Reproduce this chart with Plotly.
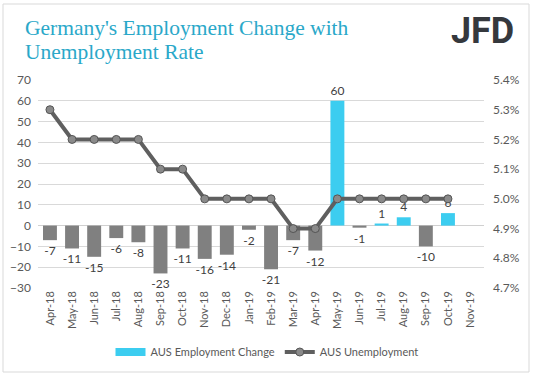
import plotly.graph_objects as go

months = ["Apr-18", "May-18", "Jun-18", "Jul-18", "Aug-18", "Sep-18", "Oct-18", "Nov-18",
          "Dec-18", "Jan-19", "Feb-19", "Mar-19", "Apr-19", "May-19", "Jun-19", "Jul-19",
          "Aug-19", "Sep-19", "Oct-19", "Nov-19"]
employment_change = [-7, -11, -15, -6, -8, -23, -11, -16, -14, -2, -21, -7, -12, 60, -1, 1, 4, -10, 6, None]
unemployment = [5.3, 5.2, 5.2, 5.2, 5.2, 5.1, 5.1, 5.0, 5.0, 5.0, 5.0, 4.9, 4.9, 5.0, 5.0, 5.0, 5.0, 5.0, 5.0, None]
left_ticks = [-30, -20, -10, 0, 10, 20, 30, 40, 50, 60, 70]
right_ticks = [4.7, 4.8, 4.9, 5.0, 5.1, 5.2, 5.3, 5.4]
right_tick_labels = ["4.7%", "4.8%", "4.9%", "5.0%", "5.1%", "5.2%", "5.3%", "5.4%"]

CYAN = "#3ccdf0"
GRAY = "#808080"
bar_colors = [CYAN if (v is not None and v > 0) else GRAY for v in employment_change]
bar_text = ["" if v is None else str(v) for v in employment_change]

L, R, T, B = 38, 484, 80, 288
PW, PH = R - L, B - T
LABEL_FONT = "Lato, Open Sans, sans-serif"

fig = go.Figure()
fig.add_trace(go.Bar(
    x=months, y=employment_change, name="AUS Employment Change",
    marker=dict(color=bar_colors, line=dict(width=0)),
    width=0.63, showlegend=False,
    text=bar_text, textposition="outside", constraintext="none",
    textfont=dict(family=LABEL_FONT, size=12, color="#404040"),
    cliponaxis=False,
))
# legend entry for the bar series (wide flat swatch)
fig.add_trace(go.Scatter(
    x=[months[0]], y=[None], name="AUS Employment Change",
    mode="lines", line=dict(color=CYAN, width=8), showlegend=True,
))
fig.add_trace(go.Scatter(
    x=months, y=unemployment, name="AUS Unemployment", yaxis="y2",
    mode="lines+markers",
    line=dict(color="#5f5f5f", width=4),
    marker=dict(size=8, color="#8a8a8a", line=dict(color="#555555", width=1)),
    cliponaxis=False,
))

fig.update_layout(
    width=534, height=377,
    margin=dict(l=L, r=534 - R, t=T, b=377 - B, autoexpand=False),
    paper_bgcolor="white", plot_bgcolor="white",
    barmode="overlay",
    showlegend=True,
    legend=dict(orientation="h", xref="container", yref="container",
                x=0.5, xanchor="center", y=1 - 352 / 377, yanchor="middle",
                font=dict(family=LABEL_FONT, size=11, color="#595959"),
                itemwidth=30, traceorder="normal"),
    font=dict(family=LABEL_FONT, color="#595959"),
    xaxis=dict(
        type="category", range=[-0.54, 19.63], automargin=False,
        tickangle=-90, tickfont=dict(size=11, color="#595959"),
        showgrid=False, showline=False, ticks="",
    ),
    yaxis=dict(
        range=[-30, 70], tickvals=left_ticks, automargin=False,
        tickfont=dict(size=12, color="#595959"),
        showgrid=True, gridcolor="#d9d9d9", gridwidth=1,
        zeroline=True, zerolinecolor="#d0d0d0", zerolinewidth=1,
        showline=False, ticks="", ticklabelstandoff=6,
    ),
    yaxis2=dict(
        overlaying="y", side="right", automargin=False,
        range=[4.7, 5.4], tickvals=right_ticks, ticktext=right_tick_labels,
        tickfont=dict(size=12, color="#595959"),
        showgrid=False, zeroline=False, showline=False, ticks="", ticklabelstandoff=8,
    ),
)

# outer border
fig.add_shape(type="rect", xref="paper", yref="paper",
              x0=(3 - L) / PW, x1=(529 - L) / PW,
              y0=-(372 - B) / PH, y1=1 + (T - 4) / PH,
              line=dict(color="#d9d9d9", width=1), fillcolor="rgba(0,0,0,0)", layer="below")

# title lines
title_lines = ["Germany's Employment Change with", "Unemployment Rate"]
for line, yc in zip(title_lines, [28, 52]):
    fig.add_annotation(text=line, xref="paper", yref="paper",
                       x=(23 - L) / PW, y=1 + (T - yc) / PH,
                       xanchor="left", yanchor="middle", showarrow=False,
                       font=dict(family="Liberation Serif, DejaVu Serif, serif", size=21.5, color="#2aa8c9"))

# logo text
fig.add_annotation(text="<b>JFD</b>", xref="paper", yref="paper",
                   x=(482 - L) / PW, y=1 + (T - 31) / PH,
                   xanchor="center", yanchor="middle", showarrow=False,
                   font=dict(family="Roboto, Liberation Sans, sans-serif", size=36, color="#35383d"))

fig.write_html("out.html", config={"displayModeBar": False},
               post_script="document.body.style.margin='0';document.body.style.padding='0';")
